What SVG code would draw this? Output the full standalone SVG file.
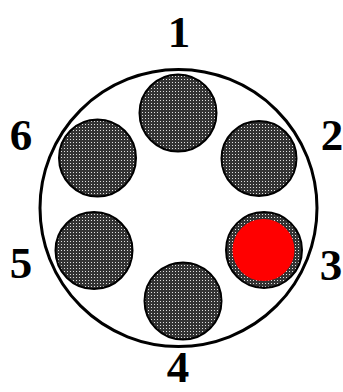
<svg xmlns="http://www.w3.org/2000/svg" width="343" height="392" viewBox="0 0 343 392">
<style>
.lbl{font-family:"Liberation Serif",serif;font-weight:bold;font-size:45px;text-anchor:middle;fill:#000}
.cell{fill:url(#dots);stroke:#000;stroke-width:2}
</style>
<defs>
<pattern id="dots" width="3" height="3" patternUnits="userSpaceOnUse">
<rect width="3" height="3" fill="#333"/>
<rect x="1" y="1" width="1" height="1" fill="#e0e0e0"/>
</pattern>
</defs>
<rect width="343" height="392" fill="#fff"/>
<g id="outer"><circle cx="178.5" cy="208" r="138.5" fill="none" stroke="#000" stroke-width="3"/></g>
<g id="connectors"></g>
<g id="n1"><circle class="cell" cx="178" cy="113" r="38.5"/><text class="lbl" x="179" y="47">1</text></g>
<g id="n2"><circle class="cell" cx="259" cy="158.5" r="37.5"/><text class="lbl" x="332" y="150">2</text></g>
<g id="n3"><circle class="cell" cx="264" cy="250" r="38"/><circle cx="263.5" cy="250" r="31" fill="#ff0000"/><text class="lbl" x="331" y="280">3</text></g>
<g id="n4"><circle class="cell" cx="183" cy="301" r="38.5"/><text class="lbl" x="178" y="382">4</text></g>
<g id="n5"><circle class="cell" cx="94" cy="250.5" r="38.5"/><text class="lbl" x="21" y="278">5</text></g>
<g id="n6"><circle class="cell" cx="97.5" cy="158" r="38.5"/><text class="lbl" x="21" y="150">6</text></g>
</svg>
